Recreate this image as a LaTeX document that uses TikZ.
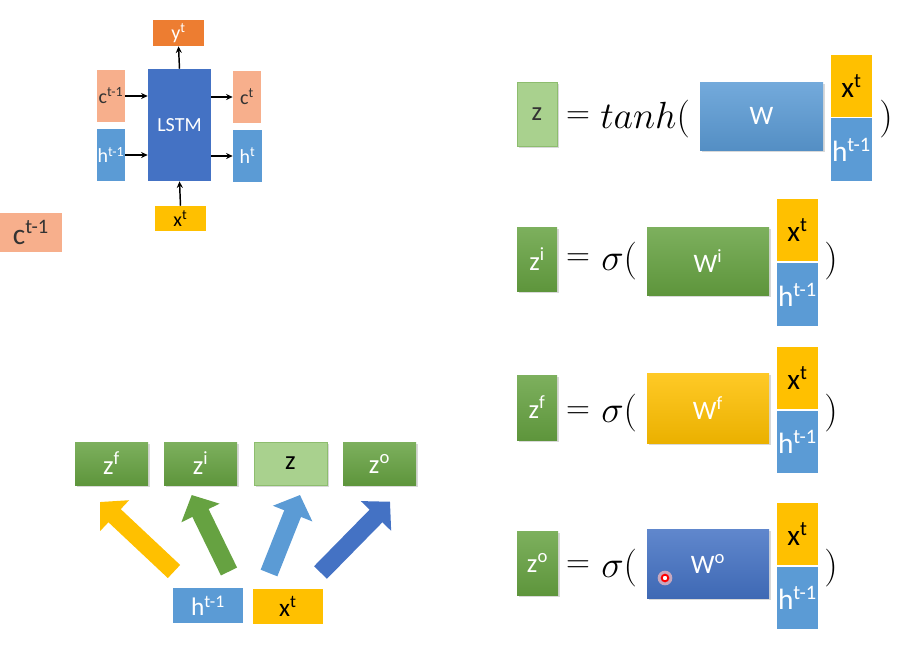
\documentclass[tikz,border=0pt]{standalone}
\usepackage{fontspec}
\setmainfont{Carlito}
\usetikzlibrary{arrows.meta,shadows}
\definecolor{cOrange}{HTML}{ED7D31}
\definecolor{cSalmon}{HTML}{F7AF8C}
\definecolor{cBlue}{HTML}{5B9BD5}
\definecolor{cDark}{HTML}{4472C4}
\definecolor{cYellow}{HTML}{FFC000}
\definecolor{cGreen}{HTML}{66A241}
\definecolor{cLight}{HTML}{A9D18E}
\definecolor{cLightB}{HTML}{8DBD6E}
\definecolor{cTxt}{HTML}{333333}
\newcommand\mybox[7]{%
  \pgfmathsetmacro\bw{(#4-#2)*0.75}\pgfmathsetmacro\bh{(#5-#3)*0.75}%
  \node[#6, minimum width=\bw pt, minimum height=\bh pt] (#1) at ({(#2+#4)/2},{(#3+#5)/2}) {#7};}
\newcommand\sps[1]{\textsuperscript{#1}}
\tikzset{
  bx/.style={rectangle, inner sep=0pt, draw=none},
  shd/.style={drop shadow={opacity=.3,shadow xshift=1.2pt,shadow yshift=-1.5pt}},
  grad/.style={top color=#1!85!white, bottom color=#1!92!black},
  small/.style={font=\fontsize{15}{17}\selectfont},
  mid/.style={font=\fontsize{20}{22}\selectfont},
  big/.style={font=\fontsize{22}{24}\selectfont},
  bot/.style={font=\fontsize{19}{21}\selectfont},
  eqtxt/.style={inner sep=0pt, font=\fontsize{24.88}{30}\selectfont},
  eqbig/.style={eqtxt, scale=1.14},
  arr/.style={line width=1.1pt, -{Stealth[length=5pt,width=4.5pt]}},
  blk/.style={line width=13.5pt, -{Triangle[length=15pt,width=31pt]}},
}
\begin{document}
\begin{tikzpicture}[x=0.75pt,y=-0.75pt]
\useasboundingbox (0,0) rectangle (910,644);
% ---------- LSTM block ----------
\mybox{yt}{153}{20}{204}{46}{bx,fill=cOrange,text=white,small}{y\sps{t}}
\mybox{lstm}{148}{69}{211}{181}{bx,fill=cDark,text=white,small}{LSTM}
\mybox{cprev}{97}{70}{125}{122}{bx,fill=cSalmon,text=cTxt,small}{c\sps{t-1}}
\mybox{hprev}{97}{129}{125}{181}{bx,fill=cBlue,text=white,small}{h\sps{t-1}}
\mybox{ct}{233}{71}{261}{123}{bx,fill=cSalmon,text=cTxt,small}{c\sps{t}}
\mybox{ht}{233}{130}{262}{182}{bx,fill=cBlue,text=white,small}{h\sps{t}}
\mybox{xt}{155}{206}{206}{231}{bx,fill=cYellow,text=black,small}{x\sps{t}}
\draw[arr] (cprev.east) -- (cprev.east -| lstm.west);
\draw[arr] (hprev.east) -- (hprev.east -| lstm.west);
\draw[arr] (ct.west -| lstm.east) -- (ct.west);
\draw[arr] (ht.west -| lstm.east) -- (ht.west);
\draw[arr] (lstm.north) -- (yt.south);
\draw[arr] (xt.north) -- (lstm.south);
% ---------- standalone c ----------
\mybox{cc}{0}{213}{62}{252}{bx,fill=cSalmon,text=cTxt,font=\fontsize{22}{24}\selectfont}{c\sps{t-1}}
% ---------- equation 1 ----------
\mybox{z1}{517}{82}{557}{146}{bx,fill=cLight,draw=cLightB,text=cTxt,mid,shd}{z}
\node[eqtxt] (eq1) at (578,118) {$=$};
\node[eqbig,anchor=base west] (fn1) at (600,128) {$tanh($};
\mybox{w1}{700}{82}{823}{150}{bx,grad=cBlue,text=white,mid,shd}{W}
\mybox{x1}{831}{55}{872}{117}{bx,fill=cYellow,text=black,big}{x\sps{t}}
\mybox{h1}{831}{118}{872}{181}{bx,fill=cBlue,text=white,big}{h\sps{t-1}}
\node[eqbig,anchor=base] (p1) at (886,128) {$)$};
% ---------- equation 2 ----------
\mybox{z2}{517}{227}{557}{291}{bx,grad=cGreen,text=white,mid,shd}{z\sps{i}}
\node[eqtxt] (eq2) at (578,260) {$=$};
\node[eqbig,anchor=base west] (fn2) at (601,270) {$\sigma($};
\mybox{w2}{647}{227}{769}{295}{bx,grad=cGreen,text=white,mid,shd}{W\sps{i}}
\mybox{x2}{777}{199}{818}{261}{bx,fill=cYellow,text=black,big}{x\sps{t}}
\mybox{h2}{777}{263}{818}{326}{bx,fill=cBlue,text=white,big}{h\sps{t-1}}
\node[eqbig,anchor=base] (p2) at (831,270) {$)$};
% ---------- equation 3 ----------
\mybox{z3}{517}{375}{557}{440}{bx,grad=cGreen,text=white,mid,shd}{z\sps{f}}
\node[eqtxt] (eq3) at (578,413) {$=$};
\node[eqbig,anchor=base west] (fn3) at (601,422) {$\sigma($};
\mybox{w3}{647}{373}{769}{443}{bx,grad=cYellow,text=white,mid,shd}{W\sps{f}}
\mybox{x3}{777}{347}{818}{409}{bx,fill=cYellow,text=black,big}{x\sps{t}}
\mybox{h3}{777}{411}{818}{473}{bx,fill=cBlue,text=white,big}{h\sps{t-1}}
\node[eqbig,anchor=base] (p3) at (831,422) {$)$};
% ---------- equation 4 ----------
\mybox{z4}{517}{531}{558}{595}{bx,grad=cGreen,text=white,mid,shd}{z\sps{o}}
\node[eqtxt] (eq4) at (578,567) {$=$};
\node[eqbig,anchor=base west] (fn4) at (601,577) {$\sigma($};
\mybox{w4}{647}{529}{769}{598}{bx,grad=cDark,text=white,mid,shd}{W\sps{o}}
\mybox{x4}{777}{503}{818}{565}{bx,fill=cYellow,text=black,big}{x\sps{t}}
\mybox{h4}{777}{567}{818}{629}{bx,fill=cBlue,text=white,big}{h\sps{t-1}}
\node[eqbig,anchor=base] (p4) at (831,577) {$)$};
\node[circle,fill=red!25,opacity=.7,minimum size=11pt,inner sep=0pt] (glow) at (665,578) {};
\node[circle,draw=red,fill=white,line width=1.4pt,minimum size=5pt,inner sep=0pt] (dot) at (665,578) {};
% ---------- bottom left ----------
\mybox{bzf}{75}{442}{148}{485}{bx,grad=cGreen,text=white,mid,shd}{z\sps{f}}
\mybox{bzi}{164}{442}{237}{485}{bx,grad=cGreen,text=white,mid,shd}{z\sps{i}}
\mybox{bz}{254}{442}{327}{485}{bx,fill=cLight,draw=cLightB,text=black,mid,shd}{z}
\mybox{bzo}{343}{442}{416}{485}{bx,grad=cGreen,text=white,mid,shd}{z\sps{o}}
\mybox{bh}{173}{588}{243}{623}{bx,fill=cBlue,text=white,bot}{h\sps{t-1}}
\mybox{bx}{253}{589}{323}{624}{bx,fill=cYellow,text=black,bot}{x\sps{t}}
\coordinate (a1s) at (174,571.5); \coordinate (a1e) at (100,502);
\coordinate (a2s) at (229,571.5); \coordinate (a2e) at (191.7,495);
\coordinate (a3s) at (269,573); \coordinate (a3e) at (300,495);
\coordinate (a4s) at (320.5,572.5); \coordinate (a4e) at (390,501.7);
\draw[blk,draw=cYellow,fill=cYellow] (a1s) -- (a1e);
\draw[blk,draw=cGreen,fill=cGreen] (a2s) -- (a2e);
\draw[blk,draw=cBlue,fill=cBlue] (a3s) -- (a3e);
\draw[blk,draw=cDark,fill=cDark] (a4s) -- (a4e);
\end{tikzpicture}
\end{document}
